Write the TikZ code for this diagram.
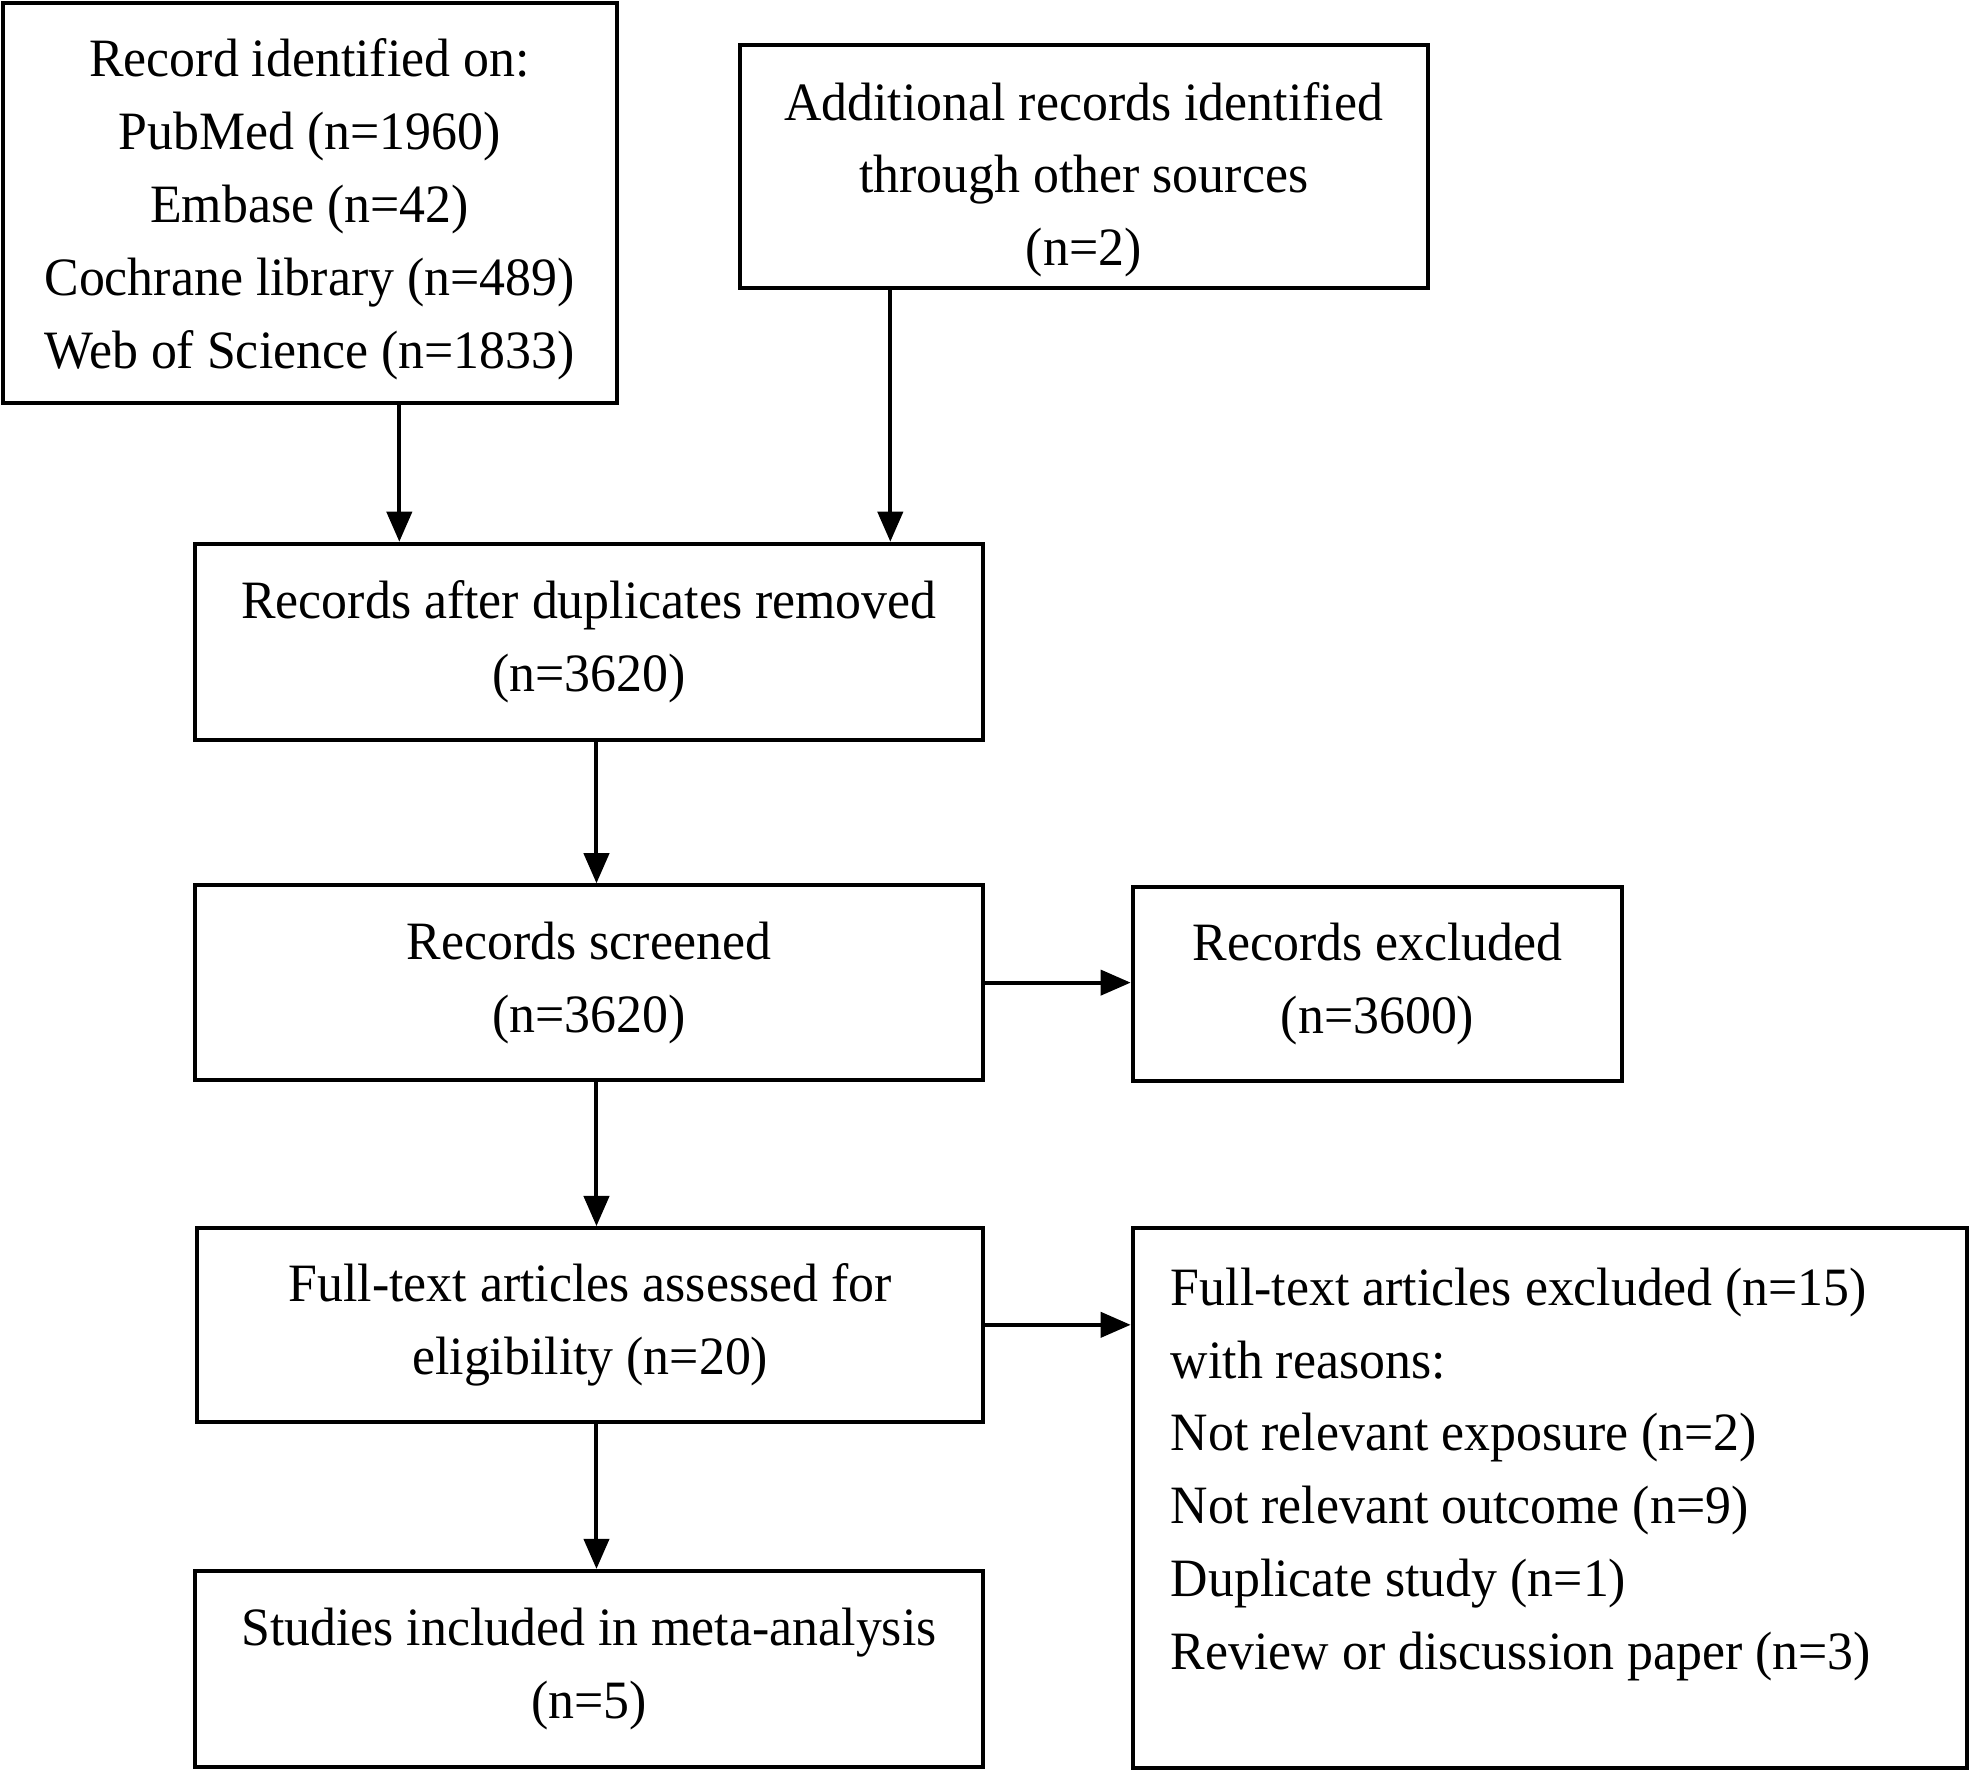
\documentclass[tikz,border=0pt]{standalone}
\usepackage{fontspec}
\setmainfont{Liberation Serif}[FakeStretch=0.96]
\usetikzlibrary{arrows.meta}
\begin{document}
\begin{tikzpicture}[x=0.5pt,y=-0.5pt,
  box/.style={draw=black, line width=1.6pt, inner sep=0pt, align=center,
    font=\fontsize{21.5}{29}\selectfont},
  txt/.style={inner sep=0pt, align=center, font=\fontsize{21.5}{29}\selectfont},
  arr/.style={line width=1.6pt, -{Triangle[length=12pt,width=10pt]}}]
\useasboundingbox (0,0) rectangle (1568,1409);
\node[box, minimum width=489*0.5pt, minimum height=319*0.5pt] (b1) at (246.5,161.5) {};
\node[txt] (t1) at (246.5,166.5)
  {Record identified on:\\PubMed (n=1960)\\Embase (n=42)\\Cochrane library (n=489)\\Web of Science (n=1833)};
\node[box, minimum width=548*0.5pt, minimum height=193*0.5pt] (b2) at (863,132.5) {};
\node[txt] (t2) at (863,143)
  {Additional records identified\\through other sources\\(n=2)};
\node[box, minimum width=628*0.5pt, minimum height=156*0.5pt] (b3) at (469,511)
  {Records after duplicates removed\\(n=3620)};
\node[box, minimum width=628*0.5pt, minimum height=155*0.5pt] (b4) at (469,782.5)
  {Records screened\\(n=3620)};
\node[box, minimum width=390*0.5pt, minimum height=155*0.5pt] (b5) at (1097,783.5)
  {Records excluded\\(n=3600)};
\node[box, minimum width=626*0.5pt, minimum height=154*0.5pt] (b6) at (470,1055)
  {Full-text articles assessed for\\eligibility (n=20)};
\node[box, minimum width=664*0.5pt, minimum height=430*0.5pt] (b7) at (1234,1193) {};
\node[txt, align=left, anchor=west] (t7) at (932,1174)
  {Full-text articles excluded (n=15)\\with reasons:\\Not relevant exposure (n=2)\\Not relevant outcome (n=9)\\Duplicate study (n=1)\\Review or discussion paper (n=3)};
\node[box, minimum width=628*0.5pt, minimum height=156*0.5pt] (b8) at (469,1329)
  {Studies included in meta-analysis\\(n=5)};
\coordinate (c1) at (318,0);
\coordinate (c2) at (709,0);
\coordinate (c3) at (475,0);
\draw[arr] (b1.south -| c1) -- (b3.north -| c1);
\draw[arr] (b2.south -| c2) -- (b3.north -| c2);
\draw[arr] (b3.south -| c3) -- (b4.north -| c3);
\draw[arr] (b4.south -| c3) -- (b6.north -| c3);
\draw[arr] (b6.south -| c3) -- (b8.north -| c3);
\draw[arr] (b4.east) -- (b4.east -| b5.west);
\draw[arr] (b6.east) -- (b6.east -| b7.west);
\end{tikzpicture}
\end{document}
